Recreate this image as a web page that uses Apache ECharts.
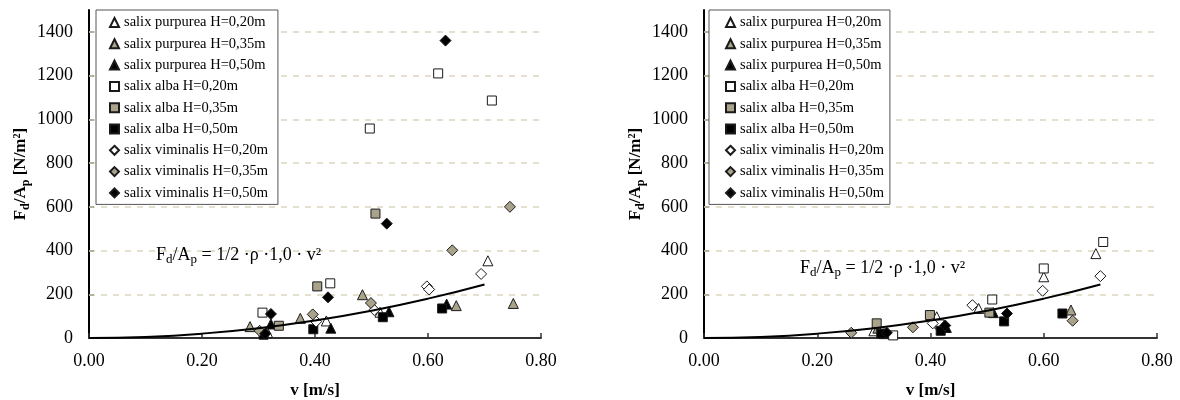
<!DOCTYPE html>
<html>
<head>
<meta charset="utf-8">
<script src="https://cdn.jsdelivr.net/npm/echarts@6/dist/echarts.min.js"></script>
<style>html,body{margin:0;padding:0;background:#fff}#c{width:1180px;height:400px}</style>
</head>
<body>
<div id="c"></div>
<script>
// ---- data ----
const seriesNames = [
  'salix purpurea H=0,20m','salix purpurea H=0,35m','salix purpurea H=0,50m',
  'salix alba H=0,20m','salix alba H=0,35m','salix alba H=0,50m',
  'salix viminalis H=0,20m','salix viminalis H=0,35m','salix viminalis H=0,50m'
];
const xTicks = [0, 0.2, 0.4, 0.6, 0.8];
const yTicks = [0, 200, 400, 600, 800, 1000, 1200, 1400];
const gridValues = [200, 400, 600, 800, 1000, 1200, 1400];

// left chart
const leftPurpurea20 = [[0.316,25],[0.42,78],[0.515,118],[0.706,353]];
const leftPurpurea35 = [[0.285,52],[0.374,90],[0.484,198],[0.65,148],[0.751,158]];
const leftPurpurea50 = [[0.322,64],[0.428,45],[0.531,120],[0.633,155]];
const leftAlba20 = [[0.307,116],[0.427,250],[0.497,958],[0.618,1210],[0.713,1086]];
const leftAlba35 = [[0.336,56],[0.404,236],[0.507,569]];
const leftAlba50 = [[0.309,15],[0.397,40],[0.52,95],[0.625,135]];
const leftViminalis20 = [[0.402,75],[0.505,128],[0.598,236],[0.602,222],[0.694,293]];
const leftViminalis35 = [[0.302,33],[0.396,108],[0.499,160],[0.643,401],[0.745,600]];
const leftViminalis50 = [[0.312,20],[0.322,110],[0.423,186],[0.527,523],[0.631,1360]];

// right chart
const rightPurpurea20 = [[0.30,33],[0.411,97],[0.485,135],[0.60,280],[0.692,386]];
const rightPurpurea35 = [[0.307,45],[0.648,128]];
const rightPurpurea50 = [[0.318,20],[0.428,48],[0.511,116]];
const rightAlba20 = [[0.334,12],[0.416,62],[0.509,176],[0.60,318],[0.705,439]];
const rightAlba35 = [[0.305,67],[0.399,105],[0.504,116]];
const rightAlba50 = [[0.313,20],[0.418,33],[0.53,76],[0.633,112]];
const rightViminalis20 = [[0.404,67],[0.474,150],[0.598,216],[0.70,283]];
const rightViminalis35 = [[0.26,24],[0.369,49],[0.651,79]];
const rightViminalis50 = [[0.323,24],[0.426,57],[0.535,112]];

// curve Fd/Ap = 1/2·ρ·1,0·v²
const curveV = [0, 0.1, 0.2, 0.3, 0.4, 0.5, 0.6, 0.7];
const curveF = [0, 5, 20, 45, 80, 125, 180, 245];

const leftSets = [leftPurpurea20,leftPurpurea35,leftPurpurea50,leftAlba20,leftAlba35,leftAlba50,leftViminalis20,leftViminalis35,leftViminalis50];
const rightSets = [rightPurpurea20,rightPurpurea35,rightPurpurea50,rightAlba20,rightAlba35,rightAlba50,rightViminalis20,rightViminalis35,rightViminalis50];

// ---- styles ----
const FONT = 'Liberation Serif';
const GRAY = '#aaa38c';
const fills = ['#fff', GRAY, '#000'];
const symbols = ['triangle','rect','diamond'];
const sizes = [10, 9, 11];

const chart = echarts.init(document.getElementById('c'), null, {renderer:'canvas'});

function makeScatter(sets, gi) {
  return sets.map((d, i) => {
    const shape = Math.floor(i / 3), shade = i % 3;
    return {
      name: seriesNames[i], type: 'scatter', xAxisIndex: gi, yAxisIndex: gi,
      data: d, symbol: symbols[shape], symbolSize: sizes[shape],
      itemStyle: {color: fills[shade], borderColor: '#1a1a1a', borderWidth: 1, opacity: 1},
      z: 3
    };
  });
}
function curveSeries(gi) {
  return {
    type: 'line', xAxisIndex: gi, yAxisIndex: gi, smooth: true, symbol: 'none',
    data: curveV.map((v, k) => [v, curveF[k]]),
    lineStyle: {color: '#000', width: 2}, z: 4, silent: true,
    markLine: {
      silent: true, symbol: 'none', label: {show: false},
      lineStyle: {color: '#ddd6bf', width: 1.5, type: [6, 6]},
      data: gridValues.map(v => ({yAxis: v})), z: 1
    }
  };
}
function xAxis(gi) {
  return {
    type: 'value', gridIndex: gi, min: 0, max: 0.8, interval: 0.2,
    name: 'v [m/s]', nameLocation: 'middle', nameGap: 44,
    nameTextStyle: {fontFamily: FONT, fontSize: 17, fontWeight: 'bold', color: '#000'},
    axisLine: {lineStyle: {color: '#333', width: 2}},
    axisTick: {inside: true, length: 5, lineStyle: {color: '#333', width: 1.5}},
    axisLabel: {fontFamily: FONT, fontSize: 18, color: '#000', margin: 14, formatter: v => v.toFixed(2)},
    splitLine: {show: false}
  };
}
function yAxis(gi) {
  return {
    type: 'value', gridIndex: gi, min: 0, max: 1500, interval: 200,
    name: '{b|F}{s|d}{b|/A}{s|p}{b| [N/m²]}', nameLocation: 'middle', nameGap: 57, nameRotate: 90,
    nameTextStyle: {rich: {
      b: {fontFamily: FONT, fontSize: 17, fontWeight: 'bold', color: '#000', lineHeight: 22},
      s: {fontFamily: FONT, fontSize: 12, fontWeight: 'bold', color: '#000', verticalAlign: 'bottom', lineHeight: 14}
    }},
    axisLine: {lineStyle: {color: '#000', width: 2}},
    axisTick: {inside: true, length: 5, lineStyle: {color: '#000', width: 1.5}, customValues: yTicks},
    axisLabel: {fontFamily: FONT, fontSize: 18, color: '#000', margin: 16, customValues: yTicks, formatter: v => String(v)},
    splitLine: {show: false}
  };
}
function legend(left, padding) {
  return {
    data: seriesNames, orient: 'vertical', left: left, top: 10,
    backgroundColor: '#fff', borderColor: '#555', borderWidth: 1,
    padding: padding, itemWidth: 9, itemHeight: 9, itemGap: 6.3,
    textStyle: {fontFamily: FONT, fontSize: 14.5, color: '#000', lineHeight: 14},
    selectedMode: false, z: 10
  };
}
function equation(left, top) {
  return {
    type: 'text', left: left, top: top, z: 20,
    style: {
      text: '{t|F}{s|d}{t|/A}{s|p}{t| = 1/2 ·ρ ·1,0 · v²}',
      rich: {
        t: {fontFamily: FONT, fontSize: 18, fill: '#000', lineHeight: 22},
        s: {fontFamily: FONT, fontSize: 13, fill: '#000', verticalAlign: 'bottom', lineHeight: 14}
      }
    }
  };
}

const option = {
  animation: false,
  backgroundColor: '#fff',
  grid: [
    {left: 89, top: 10, width: 452, height: 328, outerBoundsMode: 'none', containLabel: false},
    {left: 704, top: 10, width: 453, height: 328, outerBoundsMode: 'none', containLabel: false}
  ],
  xAxis: [xAxis(0), xAxis(1)],
  yAxis: [yAxis(0), yAxis(1)],
  legend: [legend(96, [5, 10, 4, 13]), legend(709, [5, 6, 4, 16])],
  graphic: [equation(156, 246), equation(800, 259)],
  series: [curveSeries(0), curveSeries(1)].concat(makeScatter(leftSets, 0), makeScatter(rightSets, 1))
};
chart.setOption(option);
</script>
</body>
</html>
